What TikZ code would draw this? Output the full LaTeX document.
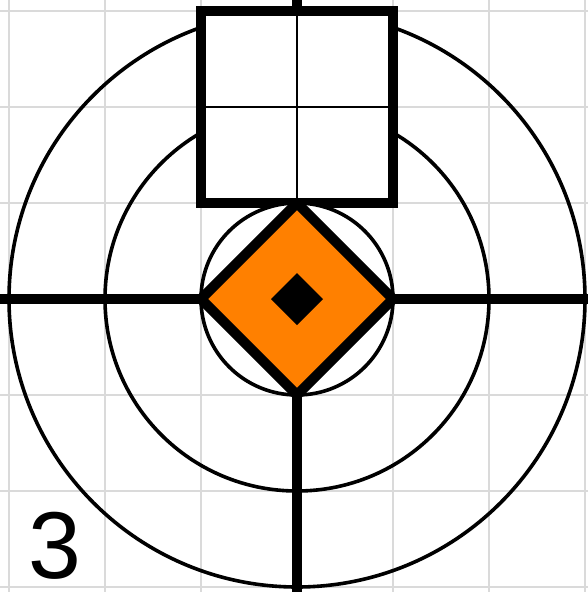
\documentclass[tikz,border=0pt]{standalone}
\usepackage{fontspec}
\setmainfont{Liberation Sans}
\definecolor{gridgray}{RGB}{218,218,218}
\definecolor{signorange}{RGB}{255,128,0}
\begin{document}
\begin{tikzpicture}[x=1pt,y=-1pt,
  gridline/.style={draw=gridgray,line width=2.6pt},
  ring/.style={draw=black,line width=3.6pt},
  heavy/.style={draw=black,line width=10pt},
  thin/.style={draw=black,line width=1.4pt}]
\useasboundingbox (0,0) rectangle (588,592);
\fill[white] (0,0) rectangle (588,592);
% grid
\foreach \gx in {9,105,201,297,393,489,585} \draw[gridline] (\gx,0) -- (\gx,592);
\foreach \gy in {11,107,203,299,395,491,587} \draw[gridline] (0,\gy) -- (588,\gy);
% centre
\coordinate (c) at (297,299);
% rings
\draw[ring] (c) circle[radius=288];
\draw[ring] (c) circle[radius=192];
% thick cross
\draw[heavy] (297,0) -- (297,592);
\draw[heavy] (0,299) -- (588,299);
% square
\draw[heavy,fill=white] (201,11) rectangle (393,203);
\draw[thin] (297,16) -- (297,198);
\draw[thin] (206,107) -- (388,107);
% inner ring
\draw[ring,fill=white] (c) circle[radius=96];
% diamond
\draw[heavy,line join=bevel,fill=signorange] (201,299) -- (297,203) -- (393,299) -- (297,395) -- cycle;
\fill[black] (271,299) -- (297,273) -- (323,299) -- (297,325) -- cycle;
% number
\node[anchor=base west,inner sep=0pt,font=\fontsize{95}{95}\selectfont] (num) at (28,578) {3};
\end{tikzpicture}
\end{document}
